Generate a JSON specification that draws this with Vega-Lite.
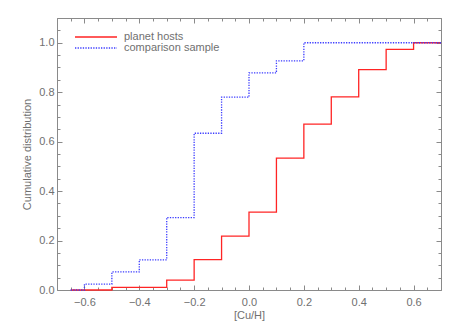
{
  "$schema": "https://vega.github.io/schema/vega-lite/v6.json",
  "width": 384,
  "height": 272,
  "autosize": {"type": "none"},
  "padding": {"left": 57, "top": 18, "right": 17, "bottom": 37},
  "data": {
    "values": [
      {"x": -0.65, "y": 0.0, "series": "planet hosts"},
      {"x": -0.5, "y": 0.011, "series": "planet hosts"},
      {"x": -0.3, "y": 0.04, "series": "planet hosts"},
      {"x": -0.2, "y": 0.123, "series": "planet hosts"},
      {"x": -0.1, "y": 0.218, "series": "planet hosts"},
      {"x": 0.0, "y": 0.315, "series": "planet hosts"},
      {"x": 0.1, "y": 0.533, "series": "planet hosts"},
      {"x": 0.2, "y": 0.671, "series": "planet hosts"},
      {"x": 0.3, "y": 0.781, "series": "planet hosts"},
      {"x": 0.4, "y": 0.891, "series": "planet hosts"},
      {"x": 0.5, "y": 0.973, "series": "planet hosts"},
      {"x": 0.6, "y": 1.0, "series": "planet hosts"},
      {"x": 0.7, "y": 1.0, "series": "planet hosts"},
      {"x": -0.65, "y": 0.0, "series": "comparison sample"},
      {"x": -0.6, "y": 0.024, "series": "comparison sample"},
      {"x": -0.5, "y": 0.073, "series": "comparison sample"},
      {"x": -0.4, "y": 0.122, "series": "comparison sample"},
      {"x": -0.3, "y": 0.293, "series": "comparison sample"},
      {"x": -0.2, "y": 0.634, "series": "comparison sample"},
      {"x": -0.1, "y": 0.78, "series": "comparison sample"},
      {"x": 0.0, "y": 0.878, "series": "comparison sample"},
      {"x": 0.1, "y": 0.927, "series": "comparison sample"},
      {"x": 0.2, "y": 1.0, "series": "comparison sample"},
      {"x": 0.7, "y": 1.0, "series": "comparison sample"}
    ]
  },
  "config": {
    "view": {"stroke": null},
    "font": "Liberation Sans",
    "axis": {
      "grid": false,
      "domainColor": "#8a8a8a",
      "tickColor": "#8a8a8a",
      "labelColor": "#707070",
      "titleColor": "#707070",
      "labelFontSize": 11,
      "titleFontSize": 11,
      "titleFontWeight": "normal",
      "labelFont": "Liberation Sans",
      "titleFont": "Liberation Sans"
    },
    "legend": {"labelFont": "Liberation Sans"}
  },
  "resolve": {"axis": {"x": "independent", "y": "independent"}},
  "layer": [
    {
      "transform": [{"filter": "datum.series == 'planet hosts'"}],
      "mark": {"type": "line", "interpolate": "step-after", "strokeWidth": 1.3},
      "encoding": {
        "x": {
          "field": "x", "type": "quantitative",
          "scale": {"domain": [-0.7, 0.7], "nice": false, "zero": false},
          "axis": {
            "orient": "bottom", "title": "[Cu/H]",
            "values": [-0.7,-0.65,-0.6,-0.55,-0.5,-0.45,-0.4,-0.35,-0.3,-0.25,-0.2,-0.15,-0.1,-0.05,0,0.05,0.1,0.15,0.2,0.25,0.3,0.35,0.4,0.45,0.5,0.55,0.6,0.65,0.7],
            "labelExpr": "round(datum.value*20) % 4 == 0 ? format(datum.value, '.1f') : ''",
            "tickSize": {"condition": {"test": "round(datum.value*20) % 4 == 0", "value": -5}, "value": -3},
            "labelPadding": 11,
            "labelFlush": false,
            "labelOverlap": false,
            "titlePadding": 0
          }
        },
        "y": {
          "field": "y", "type": "quantitative",
          "scale": {"domain": [0, 1.1], "nice": false, "zero": false},
          "axis": {
            "orient": "left", "title": "Cumulative distribution",
            "values": [0,0.05,0.1,0.15,0.2,0.25,0.3,0.35,0.4,0.45,0.5,0.55,0.6,0.65,0.7,0.75,0.8,0.85,0.9,0.95,1,1.05,1.1],
            "labelExpr": "round(datum.value*20) % 4 == 0 ? format(datum.value, '.1f') : ''",
            "tickSize": {"condition": {"test": "round(datum.value*20) % 4 == 0", "value": -5}, "value": -3},
            "labelPadding": 8,
            "labelFlush": false,
            "labelOverlap": false,
            "titlePadding": 6
          }
        },
        "color": {
          "field": "series", "type": "nominal",
          "scale": {"domain": ["planet hosts", "comparison sample"], "range": ["#ff2424", "#3c3cff"]},
          "legend": {
            "title": null, "orient": "none", "legendX": 33, "legendY": 13,
            "symbolType": "M-4.2,0H4.2", "symbolSize": 100, "symbolStrokeWidth": 1.3,
            "labelFontSize": 11, "labelColor": "#707070", "labelOffset": 22, "rowPadding": 0, "padding": 0
          }
        },
        "strokeDash": {
          "field": "series", "type": "nominal",
          "scale": {"domain": ["planet hosts", "comparison sample"], "range": [[1, 0], [1.3, 1.3]]},
          "legend": {
            "title": null, "orient": "none", "legendX": 33, "legendY": 13,
            "symbolType": "M-4.2,0H4.2", "symbolSize": 100, "symbolStrokeWidth": 1.3,
            "labelFontSize": 11, "labelColor": "#707070", "labelOffset": 22, "rowPadding": 0, "padding": 0
          }
        }
      }
    },
    {
      "transform": [{"filter": "datum.series == 'comparison sample'"}],
      "mark": {"type": "line", "interpolate": "step-after", "strokeWidth": 1.3},
      "encoding": {
        "x": {
          "field": "x", "type": "quantitative",
          "axis": {
            "orient": "top", "title": null, "labels": false,
            "values": [-0.7,-0.65,-0.6,-0.55,-0.5,-0.45,-0.4,-0.35,-0.3,-0.25,-0.2,-0.15,-0.1,-0.05,0,0.05,0.1,0.15,0.2,0.25,0.3,0.35,0.4,0.45,0.5,0.55,0.6,0.65,0.7],
            "tickSize": {"condition": {"test": "round(datum.value*20) % 4 == 0", "value": -5}, "value": -3}
          }
        },
        "y": {
          "field": "y", "type": "quantitative",
          "axis": {
            "orient": "right", "title": null, "labels": false,
            "values": [0,0.05,0.1,0.15,0.2,0.25,0.3,0.35,0.4,0.45,0.5,0.55,0.6,0.65,0.7,0.75,0.8,0.85,0.9,0.95,1,1.05,1.1],
            "tickSize": {"condition": {"test": "round(datum.value*20) % 4 == 0", "value": -5}, "value": -3}
          }
        },
        "color": {"field": "series", "type": "nominal"},
        "strokeDash": {"field": "series", "type": "nominal"}
      }
    }
  ]
}
